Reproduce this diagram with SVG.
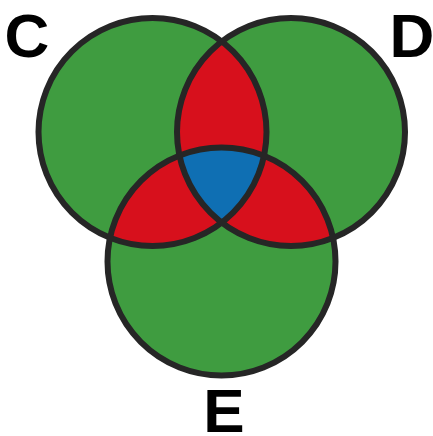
<svg xmlns="http://www.w3.org/2000/svg" width="433" height="436" viewBox="0 0 433 436">
<style>
.fill-g{fill:#3f9c40}
.fill-r{fill:#d7101c}
.fill-b{fill:#0f6fb3}
.edge{fill:none;stroke:#262626;stroke-width:6}
.lbl{font-family:"Liberation Sans",Arial,sans-serif;font-weight:bold;font-size:62px;fill:#000;text-anchor:middle}
</style>
<defs>
<circle id="cC" cx="152.5" cy="132" r="114"/>
<circle id="cD" cx="291" cy="132" r="114"/>
<circle id="cE" cx="221.5" cy="261.5" r="114"/>
<clipPath id="clipC"><use href="#cC"/></clipPath>
<clipPath id="clipD"><use href="#cD"/></clipPath>
<clipPath id="clipCD" clip-path="url(#clipC)"><use href="#cD"/></clipPath>
</defs>
<rect width="433" height="436" fill="#fff"/>
<g id="fills">
<use href="#cC" class="fill-g"/>
<use href="#cD" class="fill-g"/>
<use href="#cE" class="fill-g"/>
<use href="#cD" class="fill-r" clip-path="url(#clipC)"/>
<use href="#cE" class="fill-r" clip-path="url(#clipC)"/>
<use href="#cE" class="fill-r" clip-path="url(#clipD)"/>
<use href="#cE" class="fill-b" clip-path="url(#clipCD)"/>
</g>
<g id="node-C">
<use href="#cC" class="edge"/>
<text class="lbl" x="27" y="57">C</text>
</g>
<g id="node-D">
<use href="#cD" class="edge"/>
<text class="lbl" x="412" y="57">D</text>
</g>
<g id="node-E">
<use href="#cE" class="edge"/>
<text class="lbl" x="224" y="432">E</text>
</g>
<g id="connectors"/>
</svg>
